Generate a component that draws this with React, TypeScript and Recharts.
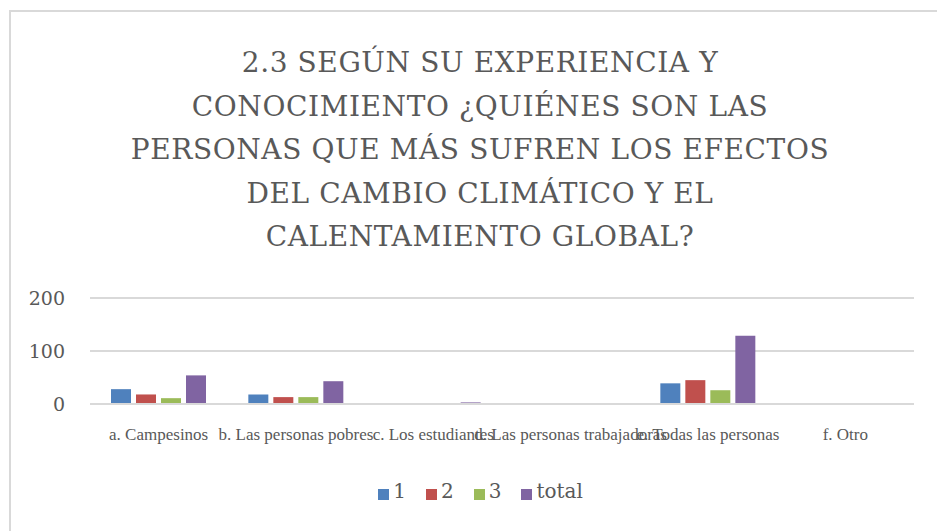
import React from 'react'
import {
  BarChart, Bar, XAxis, YAxis, CartesianGrid, Legend,
} from 'recharts'

// categorías y series
const CATEGORIES = [
  'a. Campesinos',
  'b. Las personas pobres',
  'c. Los estudiantes',
  'd. Las personas trabajadoras',
  'e. Todas las personas',
  'f. Otro',
]
const SERIE_1 = [28, 18, 0, 0, 39, 0]
const SERIE_2 = [18, 13, 0, 0, 45, 0]
const SERIE_3 = [11, 13, 0, 0, 26, 0]
const TOTAL = [54, 43, 3, 0, 129, 0]
const Y_TICKS = [0, 100, 200]

const TITLE_LINES = [
  '2.3 SEGÚN SU EXPERIENCIA Y',
  'CONOCIMIENTO ¿QUIÉNES SON LAS',
  'PERSONAS QUE MÁS SUFREN LOS EFECTOS',
  'DEL CAMBIO CLIMÁTICO Y EL',
  'CALENTAMIENTO GLOBAL?',
]

const SERIES = [
  { key: '1', values: SERIE_1, color: '#4F81BD' },
  { key: '2', values: SERIE_2, color: '#C0504D' },
  { key: '3', values: SERIE_3, color: '#9BBB59' },
  { key: 'total', values: TOTAL, color: '#8064A2' },
]

const TEXT = '#595959'
const GRID = '#d9d9d9'
const SERIF = '"DejaVu Serif", serif'

const data = CATEGORIES.map((name, i) => {
  const row: Record<string, any> = { name }
  SERIES.forEach(s => { row[s.key] = s.values[i] })
  return row
})

export default function App() {
  return (
    <div style={{
      position: 'absolute', left: 0, top: 0, width: 937, height: 531,
      overflow: 'hidden', background: '#fff',
    }}>
      <div style={{
        position: 'absolute', left: 9, top: 10, width: 1000, height: 600,
        border: `2px solid ${GRID}`, boxSizing: 'border-box',
      }} />
      <div style={{
        position: 'absolute', left: 0, top: 41, width: 960, textAlign: 'center',
        fontFamily: SERIF, fontSize: 28, lineHeight: '43.5px',
        color: TEXT, letterSpacing: 0.6,
      }}>
        {TITLE_LINES.map(l => <div key={l}>{l}</div>)}
      </div>
      <BarChart
        width={937}
        height={531}
        data={data}
        margin={{ top: 298, right: 23, left: 0, bottom: 47 }}
        barCategoryGap={21}
        barGap={5}
      >
        <CartesianGrid vertical={false} stroke={GRID} strokeWidth={2} />
        <XAxis
          dataKey="name"
          interval={0}
          tickLine={false}
          axisLine={{ stroke: GRID, strokeWidth: 2 }}
          tick={{ fill: TEXT, fontSize: 17, fontFamily: '"Liberation Serif", serif' }}
          tickMargin={18}
          height={50}
        />
        <YAxis
          domain={[0, 200]}
          ticks={Y_TICKS}
          width={90}
          axisLine={false}
          tickLine={false}
          tickMargin={19}
          tick={{ fill: TEXT, fontSize: 19, fontFamily: SERIF }}
        />
        <Legend
          verticalAlign="bottom"
          height={30}
          iconType="square"
          iconSize={11}
          wrapperStyle={{ top: 479, left: 36, width: 909 }}
          formatter={(v: string) => (
            <span style={{
              color: TEXT, fontSize: 20, fontFamily: SERIF, paddingRight: 10,
            }}>{v}</span>
          )}
        />
        {SERIES.map(s => (
          <Bar key={s.key} dataKey={s.key} name={s.key} fill={s.color} isAnimationActive={false} />
        ))}
      </BarChart>
    </div>
  )
}
